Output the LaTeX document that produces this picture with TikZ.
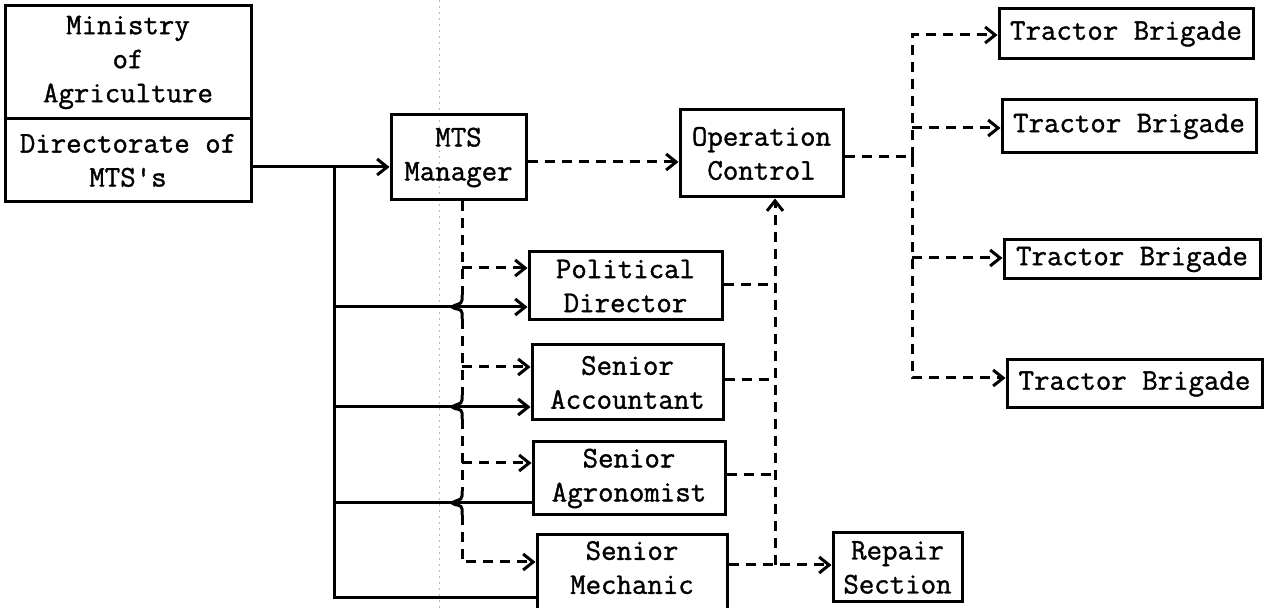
\documentclass[tikz,border=0pt]{standalone}
\usepackage{fontspec}
\newfontfamily\twfont[FakeBold=1.2]{Latin Modern Mono}
\usetikzlibrary{arrows.meta}
\begin{document}
\begin{tikzpicture}[x=0.5pt,y=-0.5pt,
  >={Straight Barb[length=5pt,width=8pt]},
  box/.style={draw,line width=1.5pt,inner sep=0pt,align=center,
    font=\fontsize{15}{17}\selectfont\twfont},
  ln/.style={line width=1.5pt},
  dl/.style={line width=1.5pt,dash pattern=on 5pt off 3.5pt},
  scan/.style={gray!55,line width=0.4pt,dash pattern=on 1pt off 2pt},
  crosshop/.pic={\draw[ln] (0,-12) -- (0,-7) .. controls (0,-2) and (-7,-3) .. (-10,0) .. controls (-7,3) and (0,1) .. (0,6) -- (0,12);}]
\useasboundingbox (0,0) rectangle (1264,608);
\draw[scan] (439,0) -- (439,608);
% boxes
\node[box,minimum width=123pt,minimum height=56.5pt] (min) at (128,62.5) {Ministry\\of\\Agriculture};
\node[box,minimum width=123pt,minimum height=41.5pt] (dir) at (128,160.5) {Directorate of\\MTS's};
\node[box,minimum width=67.5pt,minimum height=42.5pt] (mts) at (458.5,157.5) {MTS\\Manager};
\node[box,minimum width=81.5pt,minimum height=43.5pt] (oc) at (761.5,153.5) {Operation\\Control};
\node[box,minimum width=96.5pt,minimum height=34pt] (pd) at (625.5,286) {Political\\Director};
\node[box,minimum width=95.5pt,minimum height=37.5pt] (sa) at (627.5,382.5) {Senior\\Accountant};
\node[box,minimum width=96pt,minimum height=36.5pt] (sag) at (629,478.5) {Senior\\Agronomist};
\node[box,minimum width=95pt,minimum height=38.5pt,text depth=6pt] (sm) at (632,573.5) {Senior\\Mechanic};
\node[box,minimum width=64.5pt,minimum height=34.5pt] (rs) at (897.5,567.5) {Repair\\Section};
\node[box,minimum width=127pt,minimum height=25pt] (tb1) at (1126,34) {Tractor Brigade};
\node[box,minimum width=127pt,minimum height=26.5pt] (tb2) at (1129,126.5) {Tractor Brigade};
\node[box,minimum width=128pt,minimum height=19.5pt] (tb3) at (1132,259.5) {Tractor Brigade};
\node[box,minimum width=127.5pt,minimum height=24pt] (tb4) at (1134.5,384) {Tractor Brigade};
% coordinates
\coordinate (st) at (334,167);
\coordinate (sb) at (334,598);
\coordinate (s1) at (334,307);
\coordinate (s2) at (334,407);
\coordinate (s3) at (334,503);
\coordinate (dtop) at (462,200);
\coordinate (dv) at (462,562);
\coordinate (d1) at (462,268);
\coordinate (d2) at (462,367);
\coordinate (d3) at (462,463);
\coordinate (r1) at (775,285);
\coordinate (r2) at (775,380);
\coordinate (r3) at (775,475);
\coordinate (rc) at (775,565);
\coordinate (m1) at (600,162);
\coordinate (tt) at (912,157);
\coordinate (tA) at (912,35);
\coordinate (tB) at (912,128);
\coordinate (tC) at (912,258);
\coordinate (tD) at (912,378);
% solid lines
\draw[ln,->] (dir.east |- st) -- (mts.west |- st);
\draw[ln] (st) -- (sb) -- (sm.west |- sb);
\draw[ln,->] (s1) -- (pd.west |- s1);
\draw[ln,->] (s2) -- (sa.west |- s2);
\draw[ln] (s3) -- (sag.west |- s3);
% dashed vertical from MTS Manager with hops
\draw[dl] (mts.south -| dtop) -- (462,295);
\pic at (462,307) {crosshop};
\draw[dl] (462,319) -- (462,395);
\pic at (462,407) {crosshop};
\draw[dl] (462,419) -- (462,491);
\pic at (462,503) {crosshop};
\draw[dl,->] (462,515) -- (dv) -- (sm.west |- dv);
\draw[dl,->] (d1) -- (pd.west |- d1);
\draw[dl,->] (d2) -- (sa.west |- d2);
\draw[dl,->] (d3) -- (sag.west |- d3);
% right collector
\draw[dl] (pd.east |- r1) -- (r1);
\draw[dl] (sa.east |- r2) -- (r2);
\draw[dl] (sag.east |- r3) -- (r3);
\draw[dl,->] (rc) -- (rc |- oc.south);
\draw[dl,->] (sm.east |- rc) -- (rs.west |- rc);
% top dashed
\draw[dl,->] (mts.east |- m1) -- (oc.west |- m1);
\draw[dl] (oc.east |- tt) -- (tt);
\draw[dl,->] (tt) -- (tA) -- (tb1.west |- tA);
\draw[dl,->] (tt) -- (tD) -- (tb4.west |- tD);
\draw[dl,->] (tB) -- (tb2.west |- tB);
\draw[dl,->] (tC) -- (tb3.west |- tC);
\end{tikzpicture}
\end{document}
